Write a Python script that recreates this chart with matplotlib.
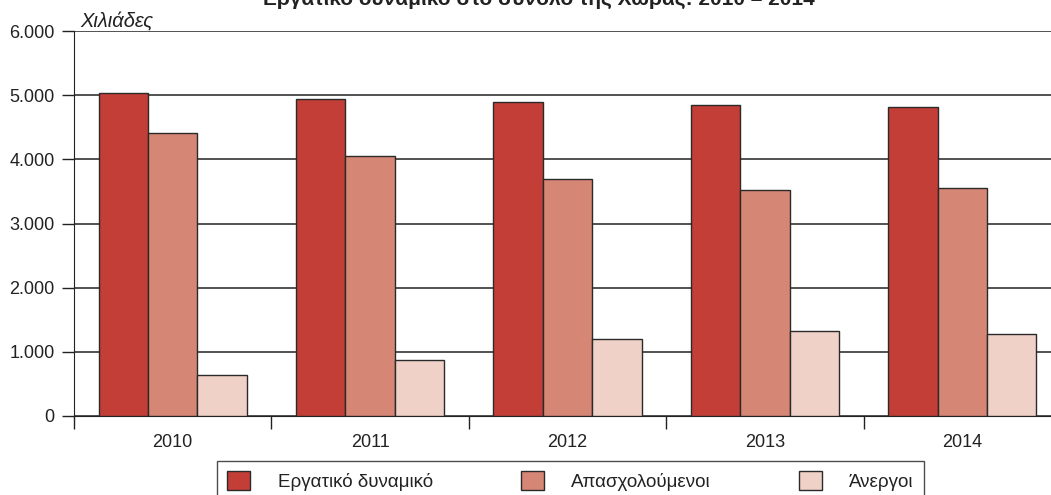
import numpy as np
import matplotlib
matplotlib.use("Agg")
import matplotlib.pyplot as plt
from matplotlib.ticker import FuncFormatter, FixedLocator

plt.rcParams['font.family'] = ['Liberation Sans', 'DejaVu Sans']

years = ['2010', '2011', '2012', '2013', '2014']
labour_force = [5039, 4933, 4891, 4844, 4820]
employed = [4405, 4050, 3696, 3520, 3548]
unemployed = [639, 872, 1195, 1324, 1273]

series_names = ['Εργατικό δυναμικό', 'Απασχολούμενοι', 'Άνεργοι']
colors = ['#C43E38', '#D68674', '#EFD1C7']

fig = plt.figure(figsize=(10.51, 4.95), dpi=100)
ax = fig.add_axes([74 / 1051, 1 - 416 / 495, 987 / 1051, 385 / 495])

x = np.arange(len(years))
w = 0.25
for i, (vals, name, c) in enumerate(zip([labour_force, employed, unemployed], series_names, colors)):
    ax.bar(x + (i - 1) * w, vals, width=w, color=c, edgecolor='#2a2a2a',
           linewidth=1.0, label=name, zorder=3)

ax.set_xlim(-0.5, 4.5)
ax.set_ylim(0, 6000)
ax.set_yticks(np.arange(0, 6001, 1000))
ax.yaxis.set_major_formatter(FuncFormatter(lambda v, p: f'{int(v):,}'.replace(',', '.')))
ax.yaxis.grid(True, color='#333333', linewidth=1.2, zorder=0)
ax.set_axisbelow(True)

ax.xaxis.set_major_locator(FixedLocator(np.arange(-0.5, 5.0, 1.0)))
ax.xaxis.set_minor_locator(FixedLocator(x))
ax.set_xticklabels([], minor=False)
ax.set_xticklabels(years, minor=True)
ax.tick_params(axis='x', which='major', direction='out', length=9, width=1, color='#222222')
ax.tick_params(axis='x', which='minor', length=0, pad=13, labelsize=13, labelcolor='#222222')
ax.tick_params(axis='y', direction='out', length=9, width=1, color='#222222',
               labelsize=13, labelcolor='#222222', pad=5)

for s in ['top', 'right']:
    ax.spines[s].set_visible(False)
ax.spines['left'].set_color('#222222')
ax.spines['bottom'].set_color('#222222')

fig.text(153 / 1051, 1 - 27 / 495, 'Χιλιάδες', style='italic', fontsize=14.5,
         color='#222222', ha='right', va='baseline')
fig.text(539 / 1051, 1 - 5 / 495, 'Εργατικό δυναμικό στο σύνολο της Χώρας: 2010 – 2014',
         fontsize=15, fontweight='bold', color='#222222', ha='center', va='baseline')

leg = fig.legend(loc='upper left', bbox_to_anchor=(217 / 1051, 1 - 461 / 495),
                 ncol=3, fontsize=13.5, frameon=True, fancybox=False,
                 edgecolor='#222222', handlelength=1.23, handleheight=1.17,
                 handletextpad=1.45, columnspacing=4.7, borderpad=0.55,
                 borderaxespad=0)
leg.get_frame().set_linewidth(1.0)
for t in leg.get_texts():
    t.set_color('#222222')

fig.savefig('out.png', dpi=100)
